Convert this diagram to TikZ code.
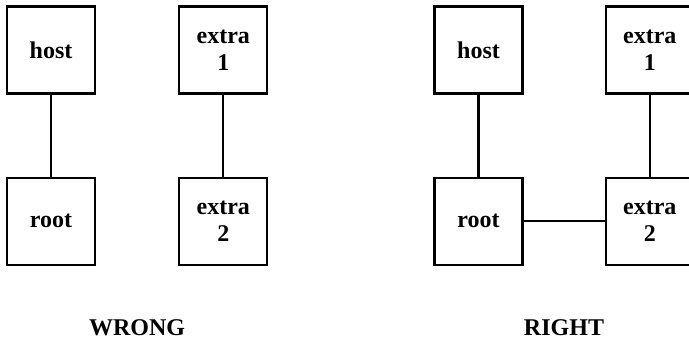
\documentclass[tikz,border=0pt]{standalone}
\usepackage{fontspec}
\setmainfont{Liberation Serif}
\usetikzlibrary{positioning}
\tikzset{
  % Square box
  BX/.style={rectangle,draw,line width=2.3pt,
             minimum width=88pt,minimum height=87pt,
             inner sep=0pt,align=center,
             font=\fontsize{24}{27}\selectfont\bfseries},
  % Connector
  ln/.style={line width=2.2pt},
  % Caption
  CP/.style={anchor=base,font=\fontsize{24}{28}\selectfont\bfseries}
}

\begin{document}
\begin{tikzpicture}[x=1pt,y=1pt]
  \useasboundingbox (0,0) rectangle (689,341);
  \clip (0,0) rectangle (689,341);

  % wrong layout
  \node[BX]                        (hostW) at (51,291) {host};
  \node[BX,below=82pt of hostW]    (rootW) {root};
  \node[BX,right=82pt of hostW]    (exaW)  {extra\\1};
  \node[BX,below=82pt of exaW]     (exbW)  {extra\\2};

  \draw[ln](hostW)--(rootW);
  \draw[ln](exaW)--(exbW);

  % right layout
  \node[BX]                        (hostR) at (478.5,291) {host};
  \node[BX,below=82pt of hostR]    (rootR) {root};
  \node[BX,right=81pt of rootR]    (exbR)  {extra\\2};
  \node[BX,above=82pt of exbR]     (exaR)  {extra\\1};

  \draw[ln](hostR)--(rootR);
  \draw[ln](rootR)--(exbR);
  \draw[ln](exaR)--(exbR);

  \node[CP] (capW) at (137,6) {WRONG};
  \node[CP] (capR) at (564,6) {RIGHT};
\end{tikzpicture}
\end{document}
